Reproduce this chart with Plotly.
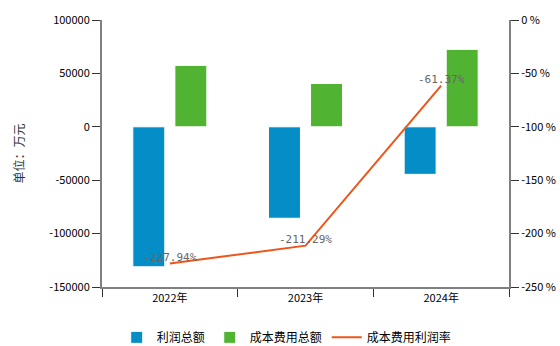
import plotly.graph_objects as go

years = ["2022年", "2023年", "2024年"]
profit_total = [-131066, -85620, -44500]      # 利润总额（万元）
cost_total = [57500, 40520, 72513]            # 成本费用总额（万元）
profit_rate = [-227.94, -211.29, -61.37]      # 成本费用利润率（%）

left_ticks = [100000, 50000, 0, -50000, -100000, -150000]
right_ticks = [0, -50, -100, -150, -200, -250]

CJK = "Noto Sans CJK SC, DejaVu Sans, sans-serif"
AXIS_COLOR = "#808080"

fig = go.Figure()
fig.add_trace(go.Bar(
    x=years, y=profit_total, name="利润总额",
    marker=dict(color="#058DC7", line=dict(color="#ffffff", width=1)),
))
fig.add_trace(go.Bar(
    x=years, y=cost_total, name="成本费用总额",
    marker=dict(color="#50B432", line=dict(color="#ffffff", width=1)),
))
fig.add_trace(go.Scatter(
    x=years, y=profit_rate, name="成本费用利润率", yaxis="y2",
    mode="lines+text",
    line=dict(color="#ED561B", width=2),
    text=[f"{v:.2f}%" for v in profit_rate],
    textposition="top center",
    textfont=dict(family="DejaVu Sans Mono, monospace", size=11, color="#666666"),
))

fig.update_layout(
    width=560, height=346,
    margin=dict(l=102, r=51, t=20, b=59, autoexpand=False),
    paper_bgcolor="white", plot_bgcolor="white",
    barmode="group", bargap=0.38, bargroupgap=0.24,
    font=dict(family=CJK, size=11, color="#000000"),
    xaxis=dict(
        type="category", tickson="boundaries", ticks="outside", ticklen=8,
        tickcolor="#333333", showline=True, linecolor=AXIS_COLOR, linewidth=2,
        showgrid=False, zeroline=False, tickfont=dict(size=11), automargin=False,
    ),
    yaxis=dict(
        range=[-150000, 100000], tickvals=left_ticks,
        ticktext=[str(v) for v in left_ticks],
        ticks="outside", ticklen=8, tickcolor="#333333",
        showline=True, linecolor=AXIS_COLOR, linewidth=2,
        showgrid=False, zeroline=False, automargin=False,
        title=dict(text="单位：万元", font=dict(size=12, color="#333333"), standoff=22),
    ),
    yaxis2=dict(
        range=[-250, 0], overlaying="y", side="right",
        tickvals=right_ticks, ticktext=[f"{v} %" for v in right_ticks],
        ticks="outside", ticklen=8, tickcolor="#333333",
        showline=True, linecolor=AXIS_COLOR, linewidth=2,
        showgrid=False, zeroline=False, automargin=False,
    ),
    legend=dict(
        orientation="h", xref="container", yref="container",
        x=0.512, y=0.025, xanchor="center", yanchor="middle",
        font=dict(size=12), itemwidth=30,
    ),
)

fig.write_html("out.html")
